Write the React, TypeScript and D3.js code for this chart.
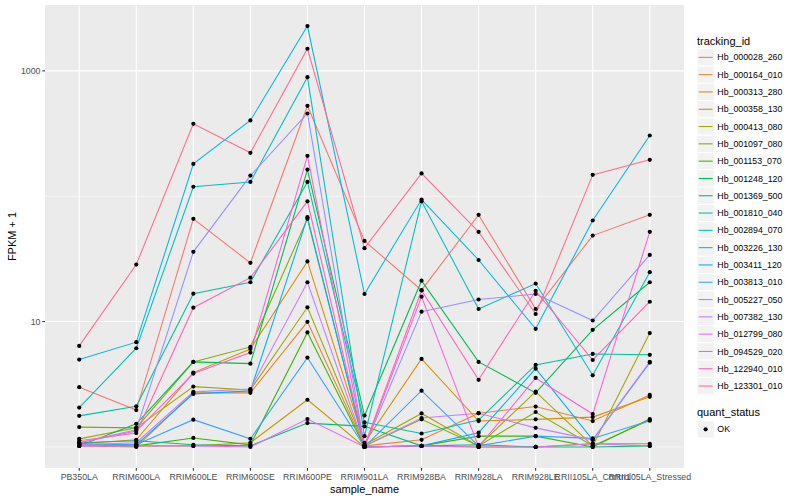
import React from "react";
import * as d3 from "d3";

const samples = [
  "PB350LA", "RRIM600LA", "RRIM600LE", "RRIM600SE", "RRIM600PE", "RRIM901LA",
  "RRIM928BA", "RRIM928LA", "RRIM928LE", "RRII105LA_Control", "RRII105LA_Stressed",
];

const trackingIds = [
  "Hb_000028_260", "Hb_000164_010", "Hb_000313_280", "Hb_000358_130", "Hb_000413_080",
  "Hb_001097_080", "Hb_001153_070", "Hb_001248_120", "Hb_001369_500", "Hb_001810_040",
  "Hb_002894_070", "Hb_003226_130", "Hb_003411_120", "Hb_003813_010", "Hb_005227_050",
  "Hb_007382_130", "Hb_012799_080", "Hb_094529_020", "Hb_122940_010", "Hb_123301_010",
];

const colors = [
  "#F8766D", "#EA8331", "#D89000", "#C09B00", "#A3A500", "#7CAE00", "#39B600", "#00BB4E",
  "#00BF7D", "#00C1A3", "#00BFC4", "#00BAE0", "#00B0F6", "#35A2FF", "#9590FF", "#C77CFF",
  "#E76BF3", "#FA62DB", "#FF62BC", "#FF6C91",
];

// FPKM values per tracking_id, one per sample
const hb000028_260 = [2.0, 0.97, 65, 28.4, 525, 43, 16.8, 70, 11.6, 47.5, 70];
const hb000164_010 = [0.02, 0, 1.7, 1.7, 8.95, 0.02, 0.14, 0.86, 1.1, 0.61, 1.6];
const hb000313_280 = [0.06, 0.14, 2.92, 5.05, 29.2, 0.08, 4.04, 0.61, 0.66, 0.73, 1.51];
const hb000358_130 = [0.04, 0.02, 0.02, 0.08, 1.38, 0, 0.02, 0, 0, 0.06, 0.06];
const hb000413_080 = [0.16, 0.42, 2.03, 1.85, 12.0, 0.04, 0.85, 0.02, 1.76, 0.02, 7.1];
const hb001097_080 = [0.44, 0.42, 3.77, 5.28, 65, 0.02, 0.66, 0.02, 0.9, 0.02, 0.64];
const hb001153_070 = [0.04, 0.02, 0.18, 0.04, 7.2, 0, 0.02, 0.22, 0.22, 0, 0.67];
const hb001248_120 = [0.02, 0.53, 3.77, 3.62, 162, 0.78, 20.2, 3.77, 1.7, 7.6, 19.6];
const hb001369_500 = [0.08, 0.12, 0.04, 0.02, 0.55, 0.46, 0.02, 0.04, 0, 0, 0.02];
const hb001810_040 = [0.77, 1.11, 15.7, 19.6, 129, 0.57, 0.28, 0.64, 3.51, 4.52, 4.43];
const hb002894_070 = [1.06, 5.13, 118, 129, 890, 0.22, 90, 11.6, 19.1, 2.73, 23.8];
const hb003226_130 = [3.98, 5.85, 180, 401, 2276, 15.6, 93, 30, 7.75, 63, 304];
const hb003411_120 = [0.04, 0.04, 1.65, 1.8, 67, 0, 0.02, 0.3, 3.21, 0.14, 3.71];
const hb003813_010 = [0.06, 0.04, 0.65, 0.16, 4.16, 0, 1.81, 0.02, 0.22, 0.17, 0.62];
const hb005227_050 = [0.08, 0.37, 35, 145, 456, 0, 11.0, 14.0, 15.6, 9.2, 33];
const hb007382_130 = [0.04, 0.08, 1.75, 1.9, 19.6, 0.02, 0.7, 0.86, 0.42, 0.14, 3.77];
const hb012799_080 = [0.02, 0.02, 0.02, 0, 0.67, 0, 0.02, 0, 0, 0.06, 0.02];
const hb094529_020 = [0.08, 0.34, 2.85, 4.66, 209, 0, 14.8, 0, 2.55, 0.83, 51];
const hb122940_010 = [0.12, 0.29, 11.9, 21.4, 90, 0.02, 16.7, 2.43, 16.6, 3.94, 13.4];
const hb123301_010 = [5.4, 27.5, 377, 221, 1499, 37.5, 151, 51, 10.5, 147, 194];

const seriesValues = [
  hb000028_260, hb000164_010, hb000313_280, hb000358_130, hb000413_080,
  hb001097_080, hb001153_070, hb001248_120, hb001369_500, hb001810_040,
  hb002894_070, hb003226_130, hb003411_120, hb003813_010, hb005227_050,
  hb007382_130, hb012799_080, hb094529_020, hb122940_010, hb123301_010,
];

const majorYTicks = [10, 1000];
const minorYTicks = [1, 100];

const W = 800, H = 500;
const panel = { left: 45, right: 684, top: 5, bottom: 468 };
const FONT = "'Liberation Sans', Arial, Helvetica, sans-serif";

export default function App() {
  const x = d3.scalePoint<string>().domain(samples).range([panel.left, panel.right]).padding(0.6);
  const all = seriesValues.flat().map((v) => v + 1);
  const [lo, hi] = d3.extent(all) as [number, number];
  const llo = Math.log10(lo), lhi = Math.log10(hi);
  const pad = (lhi - llo) * 0.05;
  const y = d3.scaleLog().domain([Math.pow(10, llo - pad), Math.pow(10, lhi + pad)]).range([panel.bottom, panel.top]);
  const line = d3.line<number>().x((_, i) => x(samples[i]) as number).y((v) => y(v + 1));

  const keyH = 17.3;
  const legX = 697;
  const keyTop = 48.7;

  return (
    <div style={{ position: "fixed", left: 0, top: 0 }}>
      <svg width={W} height={H} style={{ display: "block", fontFamily: FONT }}>
        <rect x={0} y={0} width={W} height={H} fill="#fff" />
        <rect x={panel.left} y={panel.top} width={panel.right - panel.left} height={panel.bottom - panel.top} fill="#EBEBEB" />
        {minorYTicks.map((t) => (
          <line key={"mn" + t} x1={panel.left} x2={panel.right} y1={y(t)} y2={y(t)} stroke="#fff" strokeWidth={0.55} />
        ))}
        {majorYTicks.map((t) => (
          <line key={"mj" + t} x1={panel.left} x2={panel.right} y1={y(t)} y2={y(t)} stroke="#fff" strokeWidth={1.07} />
        ))}
        {samples.map((s) => (
          <line key={"gx" + s} x1={x(s)} x2={x(s)} y1={panel.top} y2={panel.bottom} stroke="#fff" strokeWidth={1.07} />
        ))}
        {seriesValues.map((vals, i) => (
          <path key={"l" + i} d={line(vals) as string} fill="none" stroke={colors[i]} strokeWidth={1.07} />
        ))}
        {seriesValues.map((vals, i) =>
          vals.map((v, j) => (
            <circle key={"p" + i + "-" + j} cx={x(samples[j])} cy={y(v + 1)} r={2.1} fill="#000" />
          ))
        )}
        {/* y axis */}
        {majorYTicks.map((t) => (
          <g key={"yt" + t}>
            <line x1={panel.left - 2.7} x2={panel.left} y1={y(t)} y2={y(t)} stroke="#333" strokeWidth={1.07} />
            <text x={panel.left - 4.5} y={y(t)} dy="0.35em" textAnchor="end" fontSize={8.8} fill="#4D4D4D">{t}</text>
          </g>
        ))}
        {/* x axis */}
        {samples.map((s) => (
          <g key={"xt" + s}>
            <line x1={x(s)} x2={x(s)} y1={panel.bottom} y2={panel.bottom + 2.7} stroke="#333" strokeWidth={1.07} />
            <text x={x(s)} y={panel.bottom + 12.3} textAnchor="middle" fontSize={8.8} fill="#4D4D4D">{s}</text>
          </g>
        ))}
        <text x={(panel.left + panel.right) / 2} y={493} textAnchor="middle" fontSize={11} fill="#000">sample_name</text>
        <text transform={`translate(15.5, ${(panel.top + panel.bottom) / 2}) rotate(-90)`} textAnchor="middle" fontSize={11} fill="#000">FPKM + 1</text>
        {/* legend: tracking_id */}
        <text x={legX} y={44.5} fontSize={11} fill="#000">tracking_id</text>
        {trackingIds.map((id, i) => {
          const top = keyTop + i * keyH;
          return (
            <g key={"lg" + id}>
              <rect x={legX} y={top} width={keyH} height={keyH} fill="#F2F2F2" stroke="#fff" strokeWidth={1} />
              <line x1={legX + 1.7} x2={legX + keyH - 1.7} y1={top + keyH / 2} y2={top + keyH / 2} stroke={colors[i]} strokeWidth={1.07} />
              <text x={legX + keyH + 3} y={top + keyH / 2} dy="0.35em" fontSize={8.8} fill="#000">{id}</text>
            </g>
          );
        })}
        {/* legend: quant_status */}
        <text x={legX} y={416} fontSize={11} fill="#000">quant_status</text>
        <rect x={legX} y={420.7} width={keyH} height={keyH} fill="#F2F2F2" stroke="#fff" strokeWidth={1} />
        <circle cx={legX + keyH / 2} cy={420.7 + keyH / 2} r={2.1} fill="#000" />
        <text x={legX + keyH + 3} y={420.7 + keyH / 2} dy="0.35em" fontSize={8.8} fill="#000">OK</text>
      </svg>
    </div>
  );
}
